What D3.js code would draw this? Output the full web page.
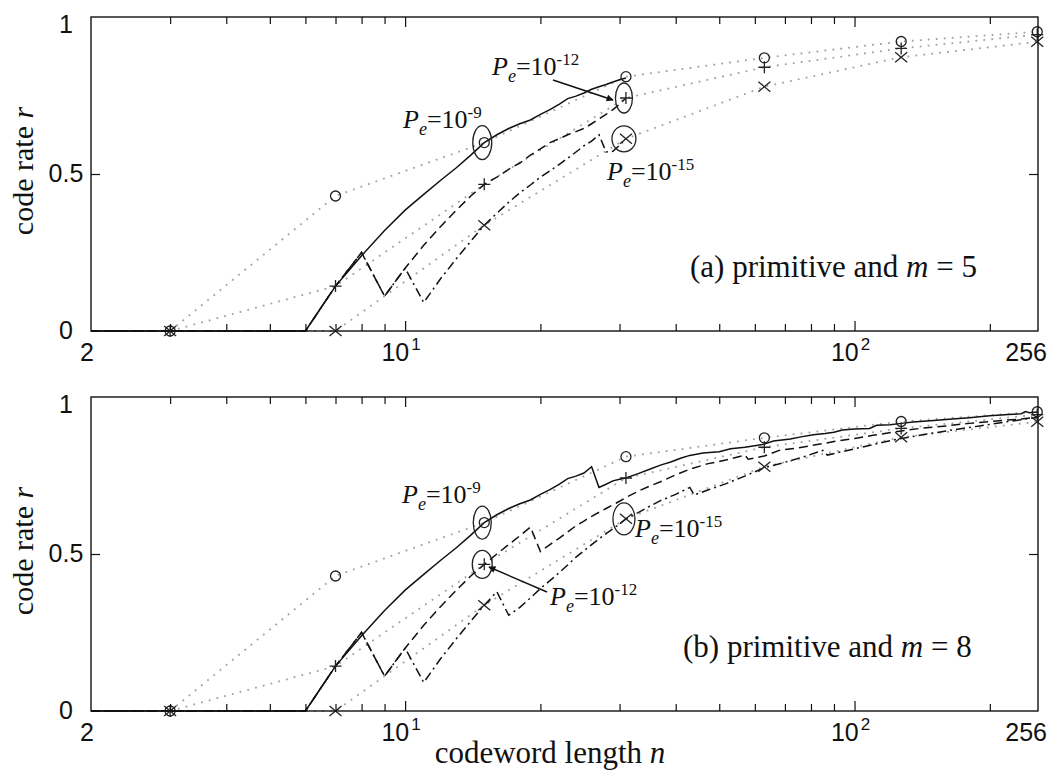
<!DOCTYPE html>
<html>
<head>
<meta charset="utf-8">
<script src="https://cdn.jsdelivr.net/npm/d3@7"></script>
<style>
body { margin:0; background:#fff; }
</style>
</head>
<body>
<svg id="chart" width="1049" height="774"></svg>
<script>
// marker points of the primitive codes, n = 2^m - 1
var markerN     = [3, 7, 15, 31, 63, 127, 255]
var rateCircle  = [0, 0.43, 0.60, 0.81, 0.87, 0.922, 0.953]   // Pe = 1e-9
var ratePlus    = [0, 0.143, 0.467, 0.742, 0.84, 0.9, 0.944]  // Pe = 1e-12
var rateCross   = [0, 0, 0.337, 0.612, 0.778, 0.872, 0.921]   // Pe = 1e-15

// (a) m = 5 : shortened codes, n up to 31   [n, r]
var solidA = [[2,0],[6,0],[7,0.143],[8,0.24],[9,0.32],[10,0.385],[11,0.435],[12,0.48],[13,0.52],[14,0.56],[15,0.6],[16,0.625],[17,0.645],[18,0.66],[19,0.672],[20,0.69],[21,0.705],[22,0.722],[23,0.74],[24,0.748],[25,0.758],[26,0.77],[27,0.778],[28,0.785],[29,0.793],[30,0.8],[31,0.806]]
var dashedA = [[2,0],[6,0],[7,0.143],[8,0.25],[9,0.111],[10,0.2],[11,0.273],[12,0.333],[13,0.385],[14,0.43],[15,0.467],[16,0.49],[17,0.515],[18,0.535],[19,0.56],[20,0.58],[21,0.6],[22,0.612],[23,0.625],[24,0.635],[25,0.645],[26,0.66],[27,0.675],[28,0.69],[29,0.705],[30,0.722],[31,0.742]]
var dashDotA = [[2,0],[6,0],[7,0.143],[8,0.25],[9,0.111],[10,0.2],[11,0.091],[12,0.167],[13,0.23],[14,0.286],[15,0.337],[16,0.375],[17,0.41],[18,0.44],[19,0.465],[20,0.49],[21,0.51],[22,0.53],[23,0.55],[24,0.57],[25,0.59],[26,0.605],[27,0.625],[28,0.57],[29,0.572],[30,0.592],[31,0.612]]

// (b) m = 8 : same start as (a), then these tails
var solidBTail = [[26,0.778],[27,0.712],[28,0.722],[29,0.733],[30,0.738],[31,0.742],[33,0.756],[35,0.77],[37,0.783],[39,0.793],[41,0.805],[43,0.814],[46,0.822],[50,0.826],[53,0.835],[57,0.84],[60,0.845],[63,0.85],[66,0.86],[72,0.866],[76,0.873],[81,0.88],[86,0.884],[90,0.888],[94,0.895],[100,0.898],[108,0.9],[112,0.91],[120,0.912],[127,0.916],[135,0.92],[150,0.925],[165,0.93],[180,0.934],[200,0.94],[220,0.944],[235,0.947],[240,0.954],[245,0.95],[255,0.952]]
var dashedBTail = [[16,0.5],[17,0.53],[18,0.558],[19,0.586],[20,0.508],[21,0.53],[22,0.55],[23,0.57],[24,0.59],[25,0.605],[26,0.62],[28,0.645],[30,0.668],[31,0.68],[33,0.7],[35,0.716],[37,0.73],[40,0.752],[43,0.77],[47,0.787],[52,0.8],[57,0.815],[58,0.802],[63,0.812],[68,0.83],[75,0.838],[80,0.845],[90,0.858],[100,0.868],[110,0.878],[127,0.892],[140,0.9],[160,0.908],[180,0.916],[200,0.922],[230,0.929],[255,0.935]]
var dashDotBTail = [[16,0.38],[17,0.305],[18,0.33],[19,0.36],[20,0.39],[21,0.415],[22,0.44],[23,0.465],[24,0.49],[25,0.51],[26,0.53],[27,0.548],[28,0.565],[29,0.58],[30,0.596],[31,0.612],[33,0.632],[35,0.652],[37,0.67],[40,0.69],[43,0.712],[44,0.688],[47,0.703],[52,0.725],[57,0.748],[63,0.775],[70,0.792],[78,0.812],[85,0.83],[87,0.815],[100,0.835],[115,0.855],[127,0.868],[145,0.882],[165,0.895],[190,0.908],[220,0.922],[255,0.935]]

var minorTicks = [3,4,5,6,7,8,9,20,30,40,50,60,70,80,90,200]
var majorTicks = [10,100]
var xTickLabels = [{v:2, base:'2', sup:''}, {v:10, base:'10', sup:'1'}, {v:100, base:'10', sup:'2'}, {v:256, base:'256', sup:''}]
var yTicks = [0, 0.5, 1]

var SERIF = '"Liberation Serif", "Times New Roman", serif'
var SANS  = '"Liberation Sans", Arial, Helvetica, sans-serif'

var svg = d3.select('#chart')

var defs = svg.append('defs')
defs.append('marker')
	.attr('id', 'arrow')
	.attr('viewBox', '0 0 10 10')
	.attr('refX', 9).attr('refY', 5)
	.attr('markerWidth', 9).attr('markerHeight', 7)
	.attr('markerUnits', 'userSpaceOnUse')
	.attr('orient', 'auto')
	.append('path')
	.attr('d', 'M0,0L10,5L0,10z')
	.attr('fill', '#111')

var x = d3.scaleLog().domain([2, 256]).range([91, 1038])

function peText(g, px, py, exp)
{
	let t = g.append('text')
		.attr('x', px).attr('y', py)
		.attr('font-family', SERIF)
		.attr('font-size', 26)
		.attr('fill', '#111')
	t.append('tspan').attr('font-style', 'italic').text('P')
	t.append('tspan').attr('font-style', 'italic').attr('font-size', 18).attr('dy', 7).text('e')
	t.append('tspan').attr('dy', -7).text('=10')
	t.append('tspan').attr('font-size', 17).attr('dy', -10).text(exp)
}

function drawPanel(top, curves, label, annot)
{
	let bottom = top + 314
	let y = d3.scaleLinear().domain([0, 1]).range([bottom, top])
	let g = svg.append('g')

	// dotted guide lines between the markers
	let dotted = d3.line().x(d => x(d[0])).y(d => y(d[1]))
	;[rateCircle, ratePlus, rateCross].forEach(function(rates) {
		g.append('path')
			.datum(markerN.map((n, i) => [n, rates[i]]))
			.attr('d', dotted)
			.attr('fill', 'none')
			.attr('stroke', '#a0a0a0')
			.attr('stroke-width', 1.8)
			.attr('stroke-dasharray', '1.8,6.2')
	})

	// the three rate curves
	let line = d3.line().x(d => x(d[0])).y(d => y(d[1]))
	let styles = [null, '9,5', '9,4,2,4']
	curves.forEach(function(c, i) {
		g.append('path')
			.datum(c)
			.attr('d', line)
			.attr('fill', 'none')
			.attr('stroke', '#111')
			.attr('stroke-width', 1.5)
			.attr('stroke-dasharray', styles[i])
	})

	// markers
	let mk = g.append('g').attr('stroke', '#222').attr('stroke-width', 1.3).attr('fill', 'none')
	mk.selectAll('.mo').data(markerN).enter().append('circle')
		.attr('cx', d => x(d)).attr('cy', (d, i) => y(rateCircle[i])).attr('r', 5)
	mk.selectAll('.mp').data(markerN).enter().append('path')
		.attr('transform', (d, i) => 'translate(' + x(d) + ',' + y(ratePlus[i]) + ')')
		.attr('d', 'M-6,0H6M0,-6V6')
	mk.selectAll('.mx').data(markerN).enter().append('path')
		.attr('transform', (d, i) => 'translate(' + x(d) + ',' + y(rateCross[i]) + ')')
		.attr('d', 'M-6,-5L6,5M-6,5L6,-5')

	// frame
	g.append('rect')
		.attr('x', 91).attr('y', top).attr('width', 1038 - 91).attr('height', 314)
		.attr('fill', 'none').attr('stroke', '#111').attr('stroke-width', 1.4)

	// inward ticks, bottom and top
	let axB = d3.axisBottom(x).tickValues(minorTicks).tickSize(-7).tickFormat('')
	let axT = d3.axisTop(x).tickValues(minorTicks).tickSize(-7).tickFormat('')
	g.append('g').attr('transform', 'translate(0,' + bottom + ')').call(axB)
	g.append('g').attr('transform', 'translate(0,' + top + ')').call(axT)
	g.append('g').attr('transform', 'translate(0,' + bottom + ')').call(d3.axisBottom(x).tickValues(majorTicks).tickSize(-10).tickFormat(''))
	g.append('g').attr('transform', 'translate(0,' + top + ')').call(d3.axisTop(x).tickValues(majorTicks).tickSize(-10).tickFormat(''))
	g.append('g').attr('transform', 'translate(91,0)').call(d3.axisLeft(y).tickValues([0.5]).tickSize(-9).tickFormat(''))
	g.append('g').attr('transform', 'translate(1038,0)').call(d3.axisRight(y).tickValues([0.5]).tickSize(-9).tickFormat(''))
	g.selectAll('.domain').remove()
	g.selectAll('.tick line').attr('stroke', '#111').attr('stroke-width', 1.2)

	// tick labels
	yTicks.forEach(function(v) {
		g.append('text')
			.attr('x', 66).attr('y', Math.max(y(v) + 8, top + 16))
			.attr('text-anchor', 'middle')
			.attr('font-family', SANS).attr('font-size', 25)
			.attr('fill', '#111')
			.text(v)
	})
	xTickLabels.forEach(function(l) {
		let last = l.v == 256
		let t = g.append('text')
			.attr('x', last ? 1047 : x(l.v) - 4).attr('y', bottom + 30)
			.attr('text-anchor', last ? 'end' : 'middle')
			.attr('font-family', SANS).attr('font-size', 25)
			.attr('fill', '#111')
		t.append('tspan').text(l.base)
		if (l.sup) t.append('tspan').attr('font-size', 17).attr('dy', -11).attr('dx', 2).text(l.sup)
	})

	// y label
	let yl = g.append('text')
		.attr('transform', 'translate(33,' + (top + 154) + ') rotate(-90)')
		.attr('text-anchor', 'middle')
		.attr('font-family', SERIF).attr('font-size', 30)
		.attr('fill', '#111')
	yl.append('tspan').text('code rate ')
	yl.append('tspan').attr('font-style', 'italic').text('r')

	// panel caption
	let cap = g.append('text')
		.attr('x', label.x).attr('y', top + 260)
		.attr('font-family', SERIF).attr('font-size', 31)
		.attr('fill', '#111')
	cap.append('tspan').text(label.text + ' ')
	cap.append('tspan').attr('font-style', 'italic').text('m')
	cap.append('tspan').text(' = ' + label.m)

	// ellipses round the marked points
	annot.rings.forEach(function(r) {
		g.append('ellipse')
			.attr('cx', x(r.n) - 2).attr('cy', y(r.r))
			.attr('rx', r.rx).attr('ry', r.ry)
			.attr('fill', 'none').attr('stroke', '#222').attr('stroke-width', 1.3)
	})
	annot.texts.forEach(function(t) { peText(g, t.x, top + t.dy, t.exp) })
	let a = annot.arrow
	g.append('line')
		.attr('x1', a.x1).attr('y1', top + a.y1).attr('x2', a.x2).attr('y2', top + a.y2)
		.attr('stroke', '#111').attr('stroke-width', 1.4)
		.attr('marker-end', 'url(#arrow)')
}

drawPanel(17, [solidA, dashedA, dashDotA],
	{x: 690, text: '(a) primitive and', m: 5},
	{
		rings: [{n:15, r:0.60, rx:9.5, ry:17}, {n:31, r:0.742, rx:8.5, ry:15}, {n:31, r:0.612, rx:12, ry:13}],
		texts: [{x:403, dy:111, exp:'-9'}, {x:492, dy:58, exp:'-12'}, {x:607, dy:163, exp:'-15'}],
		arrow: {x1:553, y1:63, x2:613, y2:83}
	})

drawPanel(397, [
		solidA.filter(d => d[0] <= 25).concat(solidBTail),
		dashedA.filter(d => d[0] <= 15).concat(dashedBTail),
		dashDotA.filter(d => d[0] <= 15).concat(dashDotBTail)
	],
	{x: 683, text: '(b) primitive and', m: 8},
	{
		rings: [{n:15, r:0.60, rx:9, ry:16.5}, {n:15, r:0.467, rx:10, ry:14}, {n:31, r:0.612, rx:11, ry:16}],
		texts: [{x:402, dy:106, exp:'-9'}, {x:635, dy:140, exp:'-15'}, {x:550, dy:208, exp:'-12'}],
		arrow: {x1:547, y1:195, x2:489, y2:170}
	})

// x label (shared)
let xl = svg.append('text')
	.attr('x', 550).attr('y', 763)
	.attr('text-anchor', 'middle')
	.attr('font-family', SERIF).attr('font-size', 31)
	.attr('fill', '#111')
xl.append('tspan').text('codeword length ')
xl.append('tspan').attr('font-style', 'italic').text('n')
</script>
</body>
</html>
